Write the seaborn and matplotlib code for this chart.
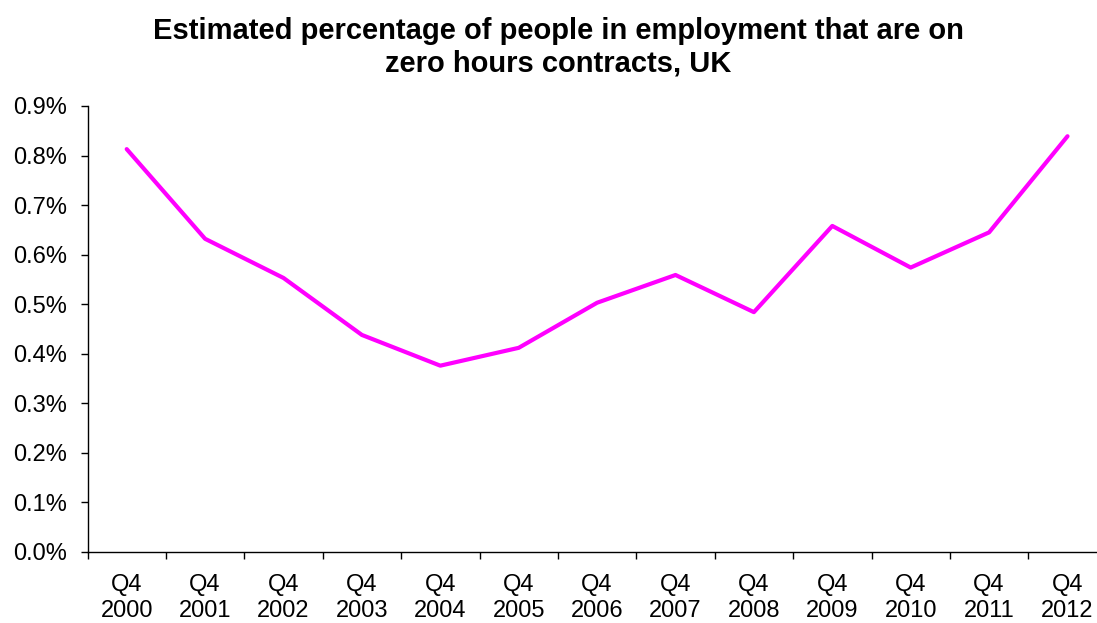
import matplotlib
matplotlib.use("Agg")
import matplotlib.pyplot as plt
import seaborn as sns
import pandas as pd
import numpy as np
from matplotlib.ticker import FuncFormatter, FixedLocator

sns.set_theme(style="white")
plt.rcParams['font.family'] = ['Liberation Sans', 'DejaVu Sans']

quarters = ["Q4", "Q4", "Q4", "Q4", "Q4", "Q4", "Q4", "Q4", "Q4", "Q4", "Q4", "Q4", "Q4"]
years = ["2000", "2001", "2002", "2003", "2004", "2005", "2006", "2007", "2008", "2009", "2010", "2011", "2012"]
pct = [0.813, 0.632, 0.553, 0.438, 0.376, 0.412, 0.503, 0.559, 0.484, 0.658, 0.574, 0.645, 0.839]

labels = [f"{q}\n{y}" for q, y in zip(quarters, years)]
df = pd.DataFrame({"pos": np.arange(len(labels)), "pct": pct})

W, H = 1097, 623
fig = plt.figure(figsize=(W / 100, H / 100), dpi=100)
left = 87.5 / W
bottom = 1 - 552 / H
width = (13 * 78.4) / W
height = (552 - 106) / H
ax = fig.add_axes([left, bottom, width, height])

sns.lineplot(data=df, x="pos", y="pct", ax=ax, color="#FF00FF", linewidth=3.0)

ax.set_xlim(-0.5, len(labels) - 0.5)
ax.set_ylim(0, 0.9)
ax.yaxis.set_major_locator(FixedLocator(np.arange(0, 0.91, 0.1)))
ax.yaxis.set_major_formatter(FuncFormatter(lambda v, p: f"{v:.1f}%"))

ax.set_xticks(np.arange(len(labels)))
ax.set_xticklabels(labels, fontsize=17, linespacing=1.25)
ax.set_xticks(np.arange(-0.5, len(labels), 1), minor=True)
ax.tick_params(axis="x", which="major", length=0, pad=16, colors="black")
ax.tick_params(axis="x", which="minor", length=5, width=1, color="black", direction="out", bottom=True)
ax.tick_params(axis="y", which="major", length=5, width=1, color="black", direction="out", left=True, labelsize=17, pad=10, labelcolor="black")

for s in ["top", "right"]:
    ax.spines[s].set_visible(False)
for s in ["left", "bottom"]:
    ax.spines[s].set_color("black")
    ax.spines[s].set_linewidth(1.0)

ax.set_xlabel("")
ax.set_ylabel("")
ax.grid(False)

fig.text(558 / W, 1 - 17 / H, "Estimated percentage of people in employment that are on\nzero hours contracts, UK",
         ha="center", va="top", fontsize=21, fontweight="bold", linespacing=1.2, color="black")

fig.savefig("out.png", dpi=100)
